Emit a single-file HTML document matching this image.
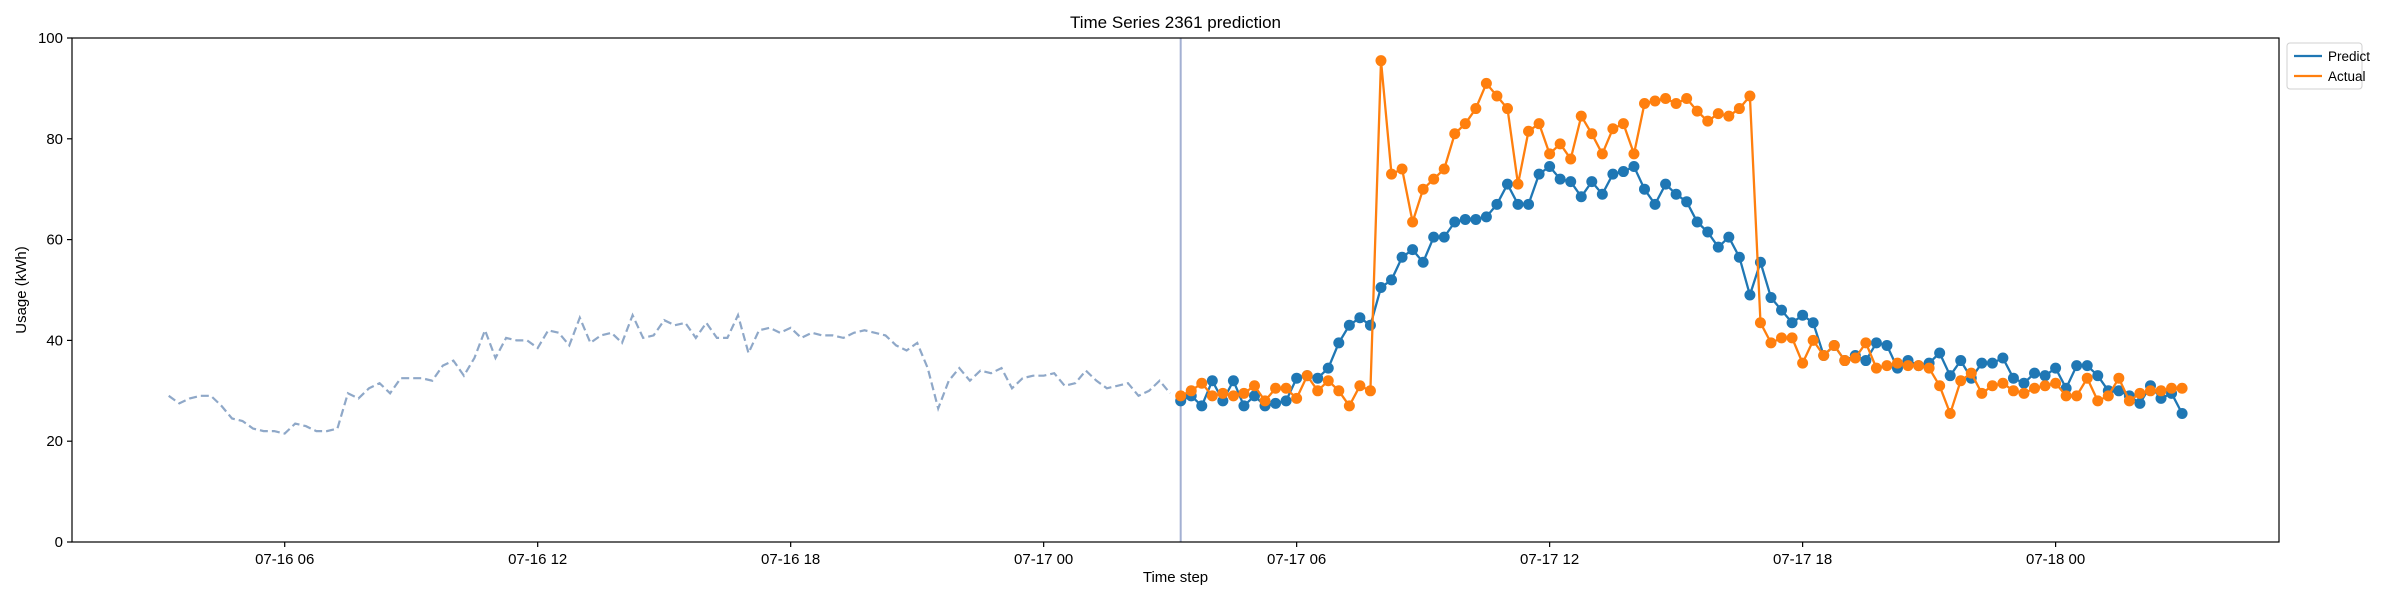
<!DOCTYPE html>
<html><head><meta charset="utf-8"><style>
html,body{margin:0;padding:0;background:#fff;}
svg{display:block;font-family:"Liberation Sans","DejaVu Sans",sans-serif;}
</style></head><body>
<svg id="chart" width="2400" height="600" viewBox="0 0 2400 600" xmlns="http://www.w3.org/2000/svg"></svg>
<script>
const historyValues=[29,27.5,28.5,29,29,27,24.5,24,22.5,22,22,21.5,23.5,23,22,22,22.5,29.5,28.5,30.5,31.5,29.5,32.5,32.5,32.5,32,35,36,33,36.5,42,36.5,40.5,40,40,38.5,42,41.5,39,44.5,39.5,41,41.5,39.5,45,40.5,41,44,43,43.5,40.5,43.5,40.5,40.5,45,37.5,42,42.5,41.5,42.5,40.5,41.5,41,41,40.5,41.5,42,41.5,41,39,38,39.5,34.5,26.5,32,34.5,32,34,33.5,34.5,30.5,32.5,33,33,33.5,31,31.5,34,32,30.5,31,31.5,29,30,32,29.5];
const predictValues=[28,29,27,32,28,32,27,29,27,27.5,28,32.5,33,32.5,34.5,39.5,43,44.5,43,50.5,52,56.5,58,55.5,60.5,60.5,63.5,64,64,64.5,67,71,67,67,73,74.5,72,71.5,68.5,71.5,69,73,73.5,74.5,70,67,71,69,67.5,63.5,61.5,58.5,60.5,56.5,49,55.5,48.5,46,43.5,45,43.5,37,39,36,37,36,39.5,39,34.5,36,35,35.5,37.5,33,36,32.5,35.5,35.5,36.5,32.5,31.5,33.5,33,34.5,30.5,35,35,33,30,30,29,27.5,31,28.5,29.5,25.5];
const actualValues=[29,30,31.5,29,29.5,29,29.5,31,28,30.5,30.5,28.5,33,30,32,30,27,31,30,95.5,73,74,63.5,70,72,74,81,83,86,91,88.5,86,71,81.5,83,77,79,76,84.5,81,77,82,83,77,87,87.5,88,87,88,85.5,83.5,85,84.5,86,88.5,43.5,39.5,40.5,40.5,35.5,40,37,39,36,36.5,39.5,34.5,35,35.5,35,35,34.5,31,25.5,32,33.5,29.5,31,31.5,30,29.5,30.5,31,31.5,29,29,32.5,28,29,32.5,28,29.5,30,30,30.5,30.5];
const xTickLabels=["07-16 06","07-16 12","07-16 18","07-17 00","07-17 06","07-17 12","07-17 18","07-18 00"];
const xTickHours=[6,12,18,24,30,36,42,48];
const yTickValues=[0,20,40,60,80,100];

const NS="http://www.w3.org/2000/svg";
const svg=document.getElementById('chart');
const L=72,R=2279,T=38,B=542;
const hourPx=(2055.6-284.7)/42;
function xScale(h){return 284.7+(h-6)*hourPx;}
function yScale(v){return B-(v/100)*(B-T);}
const histStart=3.25, predStart=27.25, step=0.25;
function el(tag,attrs,parent){const e=document.createElementNS(NS,tag);for(const k in attrs)e.setAttribute(k,attrs[k]);(parent||svg).appendChild(e);return e;}

let t=el('text',{x:(L+R)/2,y:28,'text-anchor':'middle','font-size':'17',fill:'#000'});
t.textContent='Time Series 2361 prediction';



let pts=historyValues.map((v,i)=>xScale(histStart+i*step).toFixed(1)+','+yScale(v).toFixed(1)).join(' ');
let hl=el('polyline',{points:pts,fill:'none',stroke:'#8fa8c8','stroke-width':'2.2','stroke-dasharray':'8,4'});



let vx=xScale(predStart);
let vl=el('line',{x1:vx,x2:vx,y1:T,y2:B,stroke:'#a3b0d2','stroke-width':'2'});



function series(vals,color,name){
  const g=el('g',{});
  
  
  const p=vals.map((v,i)=>xScale(predStart+i*step).toFixed(1)+','+yScale(v).toFixed(1)).join(' ');
  const ln=el('polyline',{points:p,fill:'none',stroke:color,'stroke-width':'2.3'},g);
  
  
  vals.forEach((v,i)=>{
    const c=el('circle',{cx:xScale(predStart+i*step),cy:yScale(v),r:5.5,fill:color},g);
    
    
  });
}
series(predictValues,'#1f77b4','predict');
series(actualValues,'#ff7f0e','actual');

let fr=el('rect',{x:L,y:T,width:R-L,height:B-T,fill:'none',stroke:'#000','stroke-width':'1.2'});



xTickHours.forEach((h,i)=>{
  const x=xScale(h);
  const tk=el('line',{x1:x,x2:x,y1:B,y2:B+5,stroke:'#000','stroke-width':'1.2'});
  
  
  const lb=el('text',{x:x,y:B+22,'text-anchor':'middle','font-size':'15',fill:'#000'});
  lb.textContent=xTickLabels[i];
  
  
});
yTickValues.forEach(v=>{
  const y=yScale(v);
  const tk=el('line',{x1:L-5,x2:L,y1:y,y2:y,stroke:'#000','stroke-width':'1.2'});
  
  
  const lb=el('text',{x:L-9,y:y+5,'text-anchor':'end','font-size':'15',fill:'#000'});
  lb.textContent=v;
  
  
});
let xt=el('text',{x:(L+R)/2,y:582,'text-anchor':'middle','font-size':'15',fill:'#000'});
xt.textContent='Time step';


let yt=el('text',{x:0,y:0,'text-anchor':'middle','font-size':'15',fill:'#000',transform:'translate(26,'+((T+B)/2)+') rotate(-90)'});
yt.textContent='Usage (kWh)';



const lg=el('g',{});


el('rect',{x:2287,y:43,width:75,height:46,rx:3,fill:'#fff',stroke:'#d0d0d0','stroke-width':'1'},lg);
[['Predict','#1f77b4',61],['Actual','#ff7f0e',81]].forEach(([n,c,y])=>{
  const e=el('g',{},lg);
  
  
  el('line',{x1:2294,x2:2322,y1:y-5,y2:y-5,stroke:c,'stroke-width':'2.3'},e);
  const tx=el('text',{x:2328,y:y,'font-size':'13.5',fill:'#000'},e);
  tx.textContent=n;
});
</script>
</body></html>
